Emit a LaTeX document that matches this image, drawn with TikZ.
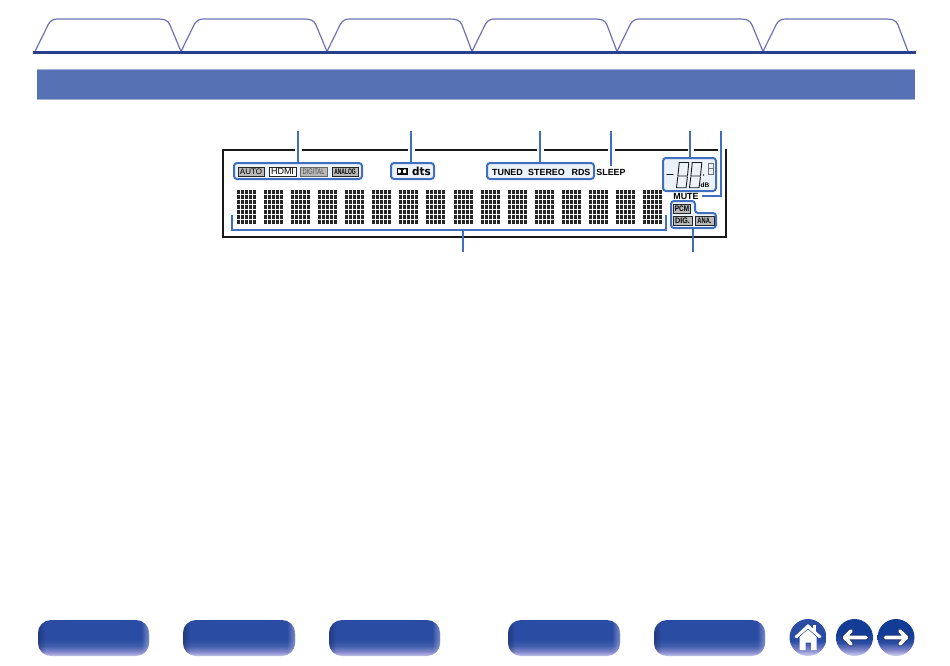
\documentclass[tikz,border=0pt]{standalone}
\usepackage{fontspec}
\usepackage{graphicx}
\setmainfont{Liberation Sans}
\newfontfamily\logofont{DejaVu Sans}
\definecolor{navy}{HTML}{2B3F8F}
\definecolor{tabline}{HTML}{6E6FB4}
\definecolor{band}{HTML}{5672B5}
\definecolor{leader}{HTML}{3F6FBE}
\definecolor{halo}{HTML}{D5E2F3}
\definecolor{chip}{HTML}{B9B9B9}
\definecolor{btnblue}{HTML}{2B4CA3}
\definecolor{rndblue}{HTML}{123C96}
\definecolor{lilac}{HTML}{C4C4EA}
\definecolor{midlilac}{HTML}{8388CB}
\pgfdeclareverticalshading{btnshade}{100bp}{
 color(0bp)=(lilac); color(25bp)=(lilac); color(31bp)=(midlilac); color(39bp)=(btnblue!90!white);
 color(48bp)=(btnblue); color(75bp)=(btnblue); color(100bp)=(btnblue)}
\pgfdeclareverticalshading{roundshade}{100bp}{
 color(0bp)=(white); color(25bp)=(lilac!70!white); color(33bp)=(midlilac); color(43bp)=(btnblue);
 color(55bp)=(rndblue); color(75bp)=(rndblue); color(100bp)=(rndblue)}
\pgfdeclareverticalshading{homeshade}{100bp}{
 color(0bp)=(white); color(25bp)=(lilac!70!white); color(33bp)=(midlilac); color(45bp)=(btnblue);
 color(75bp)=(btnblue); color(100bp)=(btnblue)}
\tikzset{
 tabshape/.style={draw=tabline,line width=1.2pt,line join=round},
 ledgroup/.style={draw=leader,line width=2pt,fill=halo!45!white,rounded corners=3pt,inner sep=0pt},
 leaderline/.style={draw=leader,line width=1.6pt},
 frameline/.style={draw=black!90,line width=1.9pt},
 chipbox/.style={draw=black!85,line width=.7pt,fill=chip,minimum height=9pt,inner sep=0pt,font=\bfseries\fontsize{8}{8}\selectfont},
 plainlabel/.style={inner sep=0pt,font=\bfseries\fontsize{8.9}{9}\selectfont},
 btn/.style={rounded corners=13pt,shading=btnshade},
 roundbtn/.style={circle,minimum size=37pt,inner sep=0pt,shading=roundshade},
 seg/.style={draw=black!90,line width=.9pt,line cap=round},
}
\newcommand{\tabat}[2]{\draw[tabshape] (#1,51.5) -- (#1+13.5,24) .. controls (#1+16,20) and (#1+19,19) .. (#1+23,19) -- (#1+123,19) .. controls (#1+129,19) and (#1+133,20) .. (#1+135,25) -- (#2,51.5);}
\newcommand{\eightdigit}[1]{\draw[seg] (#1+2,162.5) -- (#1+11.5,162.5) (#1+2.3,162.5) -- (#1+.9,175.5) (#1+11.8,162.5) -- (#1+10.5,175.5) (#1+1,176) -- (#1+10,176) (#1+.8,177) -- (#1-.5,187.5) (#1+10.4,177) -- (#1+9.1,187.5) (#1-.5,187.7) -- (#1+9,187.7);}
\begin{document}
\begin{tikzpicture}[x=1pt,y=-1pt]
\useasboundingbox (0,0) rectangle (950,665);
% tabs
\tabat{35}{181}\tabat{181}{327}\tabat{327}{472}\tabat{472}{617}\tabat{617}{763}\tabat{763}{908}
\fill[navy] (33,51) rectangle (916,54);
% band
\fill[band] (37,69) rectangle (915,99);
\draw[band!55!white,line width=.5pt] (37,69.2) -- (915,69.2) (37,98.8) -- (915,98.8);
% frame
\draw[frameline] (295,150) -- (223,150) -- (223,237) -- (726,237) -- (726,149);
\draw[frameline] (302,150) -- (408,150) (415,150) -- (537,150) (544,150) -- (608,150) (615,150) -- (688,150) (694,150) -- (718,150);
% group boxes
\node[ledgroup,minimum width=128pt,minimum height=16pt] (gA) at (298,171) {};
\node[ledgroup,minimum width=43pt,minimum height=16pt] (gB) at (412.5,171) {};
\node[ledgroup,minimum width=107pt,minimum height=16pt] (gC) at (540.5,171) {};
\node[ledgroup,minimum width=53pt,minimum height=33pt] (gD) at (689.5,174.5) {};
\draw[ledgroup] (671,228) -- (671,201) -- (695,201) -- (695,213) -- (716,213) -- (716,228) -- cycle;
\coordinate (gE) at (693,228);
% chips
\node[chipbox,minimum width=26pt] (auto) at (251,171.5) {\mdseries AUTO};
\node[chipbox,minimum width=27pt,fill=white,font=\fontsize{9}{9}\selectfont] (hdmi) at (282.5,171.5) {HDMI};
\node[chipbox,minimum width=27pt,draw=black!60,text=black!70] (digi) at (313.5,171.5) {\scalebox{.72}[1]{\mdseries DIGITAL}};
\node[chipbox,minimum width=26pt] (anal) at (345,171.5) {\scalebox{.62}[1]{ANALOG}};
\node[chipbox,minimum width=17pt,minimum height=9pt] (pcm) at (682,208.5) {\scalebox{.8}[1]{PCM}};
\node[chipbox,minimum width=19pt,minimum height=9pt] (dig) at (682.5,221) {\scalebox{.9}[1]{DIG.}};
\node[chipbox,minimum width=19pt,minimum height=9pt] (ana) at (704.5,221) {\scalebox{.72}[1]{ANA.}};
% dolby dts
\fill[black] (396.5,168) rectangle (407.5,174.5);
\fill[white] (398,169.3) -- (399.5,169.3) .. controls (401.6,169.3) and (401.6,173.2) .. (399.5,173.2) -- (398,173.2) -- cycle;
\fill[white] (406,169.3) -- (404.5,169.3) .. controls (402.4,169.3) and (402.4,173.2) .. (404.5,173.2) -- (406,173.2) -- cycle;
\node[inner sep=0pt,font=\logofont\bfseries\fontsize{11}{11}\selectfont] (dts) at (421.5,171) {\scalebox{.95}[1]{dts}};
% text labels
\node[plainlabel] (tuned) at (507.5,172) {TUNED};
\node[plainlabel] (stereo) at (546.5,172) {STEREO};
\node[plainlabel] (rds) at (581,172) {RDS};
\node[plainlabel] (sleep) at (611,172) {SLEEP};
\node[plainlabel] (mute) at (686,196) {MUTE};
% seven segment
\draw[seg,line width=1.1pt] (667,174.5) -- (673,174.5);
\eightdigit{677}\eightdigit{690}
\fill[black!80] (703.5,175) circle (.8);
\draw[seg,draw=black!55,line width=.6pt] (708,163) rectangle (713,168.5) (708,168.5) rectangle (713,174.5);
\node[inner sep=0pt,font=\bfseries\fontsize{6.5}{7}\selectfont] (db) at (705,185) {dB};
% dot matrix
\foreach \c in {0,...,15}{
 \pgfmathsetmacro{\cx}{round(237+\c*27.07)}
 \foreach \i in {0,...,4}{
  \foreach \j in {0,...,6}{
   \fill[black!85] ({\cx+\i*4},{190+\j*5}) rectangle +(3,4);
}}}
% leaders
\coordinate (t1) at (298,131);\coordinate (t2) at (411,131);\coordinate (t3) at (540,131);\coordinate (t4) at (611,131);\coordinate (t5) at (690,131);\coordinate (t6) at (721,131);
\coordinate (b1) at (463,252);\coordinate (b2) at (693,252);
\coordinate (s4) at (611,166);\coordinate (m1) at (702,196);
\coordinate (brL) at (232,215);\coordinate (brR) at (666,215);\coordinate (brM) at (463,230);
\draw[leaderline] (t1) -- (t1 |- gA.north);
\draw[leaderline] (t2) -- (t2 |- gB.north);
\draw[leaderline] (t3) -- (t3 |- gC.north);
\draw[leaderline] (t4) -- (s4);
\draw[leaderline] (t5) -- (t5 |- gD.north);
\draw[leaderline] (t6) |- (m1);
\draw[leaderline] (brL) |- (brM) -| (brR);
\draw[leaderline] (b1) -- (brM);
\draw[leaderline] (b2) -- (gE);
% bottom buttons
\foreach \a/\b in {38/149,183/295,329/440,508/620,654/765}{
 \path[btn] (\a,620) rectangle (\b,656);
 \begin{scope}
  \clip[rounded corners=13pt] (\a,620) rectangle (\b,656);
  \foreach \k in {0,...,6}{
   \pgfmathsetmacro{\op}{.45*(1-\k/7)}
   \fill[navy!60!black,opacity=\op] (\a+\k,620) rectangle (\a+\k+1,656);
   \fill[lilac,opacity=\op] (\b-\k-1,620) rectangle (\b-\k,656);
  }
 \end{scope}
}
% round buttons
\node[roundbtn,shading=homeshade] (home) at (808,637.5) {};
\node[roundbtn] (prev) at (854.5,637.5) {};
\node[roundbtn] (next) at (896,637.5) {};
% home icon
\fill[white] (813,625) rectangle (816,632);
\fill[white,draw=white,line join=round,line width=.6pt] (808,624.5) -- (821,636.5) -- (819.5,638) -- (808,628) -- (796.5,638) -- (795,636.5) -- cycle;
\fill[white] (808,629.5) -- (816.5,637) -- (816.5,650) -- (811,650) -- (811,642.5) -- (805.5,642.5) -- (805.5,650) -- (799.5,650) -- (799.5,637) -- cycle;
% arrows
\draw[navy!70!black,line width=5pt,line cap=round,line join=round] (866,637.5) -- (845,637.5) (851,631) -- (844.5,637.5) -- (851,644);
\draw[white,line width=3.8pt,line cap=round,line join=round] (866,637.5) -- (845,637.5) (851,631) -- (844.5,637.5) -- (851,644);
\draw[navy!70!black,line width=5pt,line cap=round,line join=round] (885.5,637.5) -- (906,637.5) (900,631) -- (906.5,637.5) -- (900,644);
\draw[white,line width=3.8pt,line cap=round,line join=round] (885.5,637.5) -- (906,637.5) (900,631) -- (906.5,637.5) -- (900,644);
\end{tikzpicture}
\end{document}
